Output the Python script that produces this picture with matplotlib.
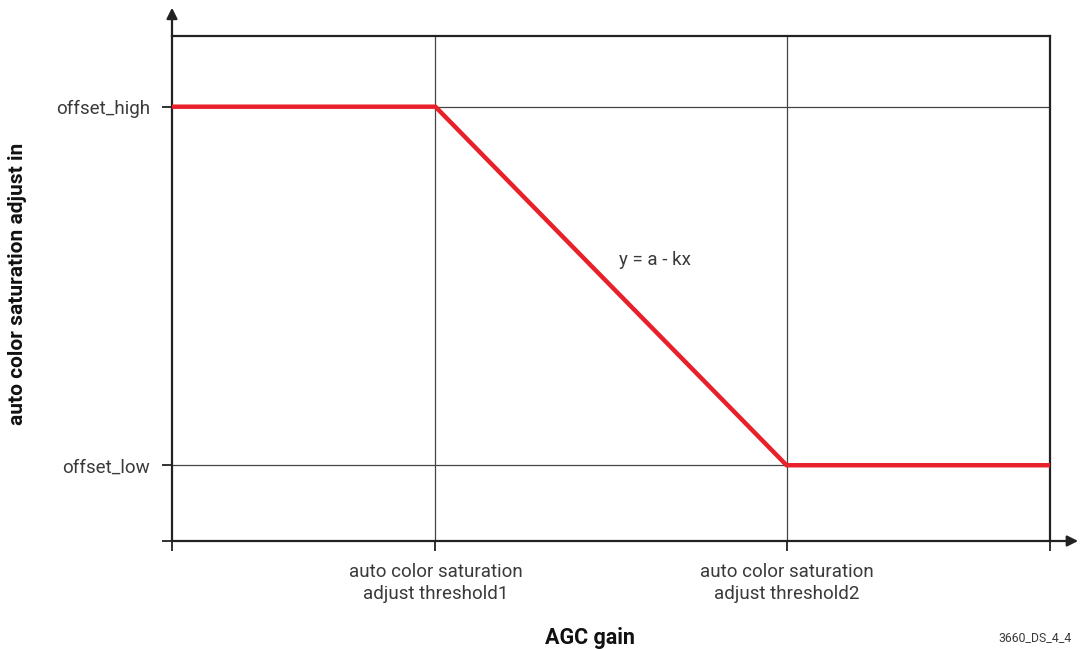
import matplotlib.pyplot as plt

# Data (arbitrary units)
x_pts = [0.0, 3.0, 7.0, 10.0]
y_pts = [8.6, 8.6, 1.5, 1.5]
x_ticks = [0.0, 3.0, 7.0, 10.0]
x_labels = ["", "auto color saturation\nadjust threshold1", "auto color saturation\nadjust threshold2", ""]
y_ticks = [0.0, 1.5, 8.6]
y_labels = ["", "offset_low", "offset_high"]

plt.rcParams['font.family'] = ['Roboto', 'DejaVu Sans']

fig = plt.figure(figsize=(10.86, 6.49), dpi=100)
ax = fig.add_axes([172/1086, 108/649, 878/1086, 505/649])
ax.set_xlim(0, 10)
ax.set_ylim(0, 10)

# grid lines at thresholds / offsets
for xv in x_ticks[1:3]:
    ax.axvline(xv, color='#444444', lw=0.9, zorder=1)
for yv in y_ticks[1:]:
    ax.axhline(yv, color='#444444', lw=0.9, zorder=1)

ax.plot(x_pts, y_pts, color='#e8202a', lw=3.2, zorder=3, clip_on=False, solid_capstyle='butt')

for s in ax.spines.values():
    s.set_color('#222222')
    s.set_linewidth(1.6)

ax.set_xticks(x_ticks)
ax.set_xticklabels(x_labels, fontsize=13.5, color='#3a3a3a', linespacing=1.25)
ax.set_yticks(y_ticks)
ax.set_yticklabels(y_labels, fontsize=13.5, color='#3a3a3a')
ax.tick_params(axis='x', direction='out', length=7, width=1.3, color='#222222', pad=9)
ax.tick_params(axis='y', direction='out', length=7, width=1.3, color='#222222', pad=9)

# axis arrows
ax.annotate('', xy=(1.032, 0), xytext=(1.0, 0), xycoords='axes fraction',
            arrowprops=dict(arrowstyle='-|>', color='#222222', lw=1.6, mutation_scale=16,
                            shrinkA=0, shrinkB=0))
ax.annotate('', xy=(0, 1.056), xytext=(0, 1.0), xycoords='axes fraction',
            arrowprops=dict(arrowstyle='-|>', color='#222222', lw=1.6, mutation_scale=16,
                            shrinkA=0, shrinkB=0))

ax.text(5.5, 5.56, "y = a - kx", fontsize=13.5, color='#3a3a3a', ha='center', va='center')

fig.text(18/1086, 1 - 284/649, "auto color saturation adjust in", rotation=90,
         fontsize=15, fontweight='bold', ha='center', va='center', color='#111111')
fig.text(590/1086, 1 - 638/649, "AGC gain", fontsize=15.5, fontweight='bold',
         ha='center', va='center', color='#111111')
fig.text(1072/1086, 1 - 638/649, "3660_DS_4_4", fontsize=8.8, ha='right', va='center',
         color='#3a3a3a')

fig.savefig("out.png", dpi=100)
